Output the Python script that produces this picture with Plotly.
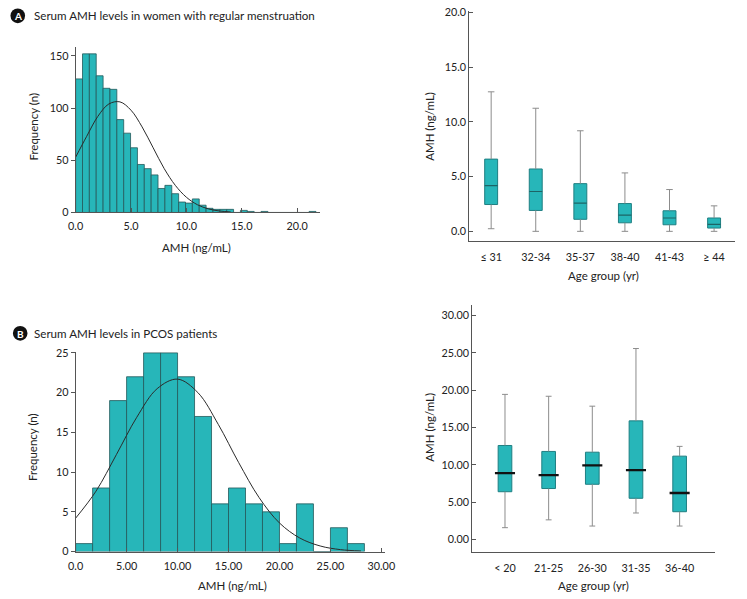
import plotly.graph_objects as go

W, H = 747, 599
FONT = "Lato"
TEAL = "#27b6b9"
BAR_EDGE = "#24595b"
BOX_EDGE = "#1f7f82"
WHISK = "#8c8c8c"
AXIS = "#555555"
TXT = "#222222"

# ---------------- data ----------------
# Panel A histogram (women with regular menstruation)
a_bin_width = 0.62
a_counts = [128, 152, 152, 131, 119, 118, 89, 76, 62, 46, 42, 36, 23, 26, 18,
            10, 9, 13, 7, 4, 3, 3, 3, 0, 2, 1, 0, 1, 0, 0, 0, 0, 0, 0, 1]
a_curve_x = [0, 1, 2, 3, 4, 5, 6, 7, 8, 9, 10, 11, 12, 13, 14]
a_curve_y = [53, 73, 92, 104, 106, 98, 82, 62, 42, 26, 14.6, 7.4, 3.4, 1.4, 0.5]
a_xticks = [0, 5, 10, 15, 20]
a_xtick_text = ["0.0", "5.0", "10.0", "15.0", "20.0"]
a_yticks = [0, 50, 100, 150]

# Panel A boxplot
a_groups = ["≤ 31", "32-34", "35-37", "38-40", "41-43", "≥ 44"]
a_low = [0.24, 0.0, 0.0, 0.0, 0.0, 0.0]
a_q1 = [2.45, 1.91, 1.10, 0.78, 0.60, 0.30]
a_med = [4.18, 3.64, 2.57, 1.49, 1.22, 0.63]
a_q3 = [6.60, 5.70, 4.36, 2.54, 1.88, 1.22]
a_high = [12.75, 11.25, 9.19, 5.34, 3.82, 2.33]
a_box_yticks = [0, 5, 10, 15, 20]
a_box_ytick_text = ["0.0", "5.0", "10.0", "15.0", "20.0"]

# Panel B histogram (PCOS patients)
b_bin_width = 1.667
b_counts = [1, 8, 19, 22, 25, 25, 22, 17, 6, 8, 6, 5, 1, 6, 0, 3, 1]
b_curve_x = [0, 2, 4, 6, 8, 10, 12, 14, 16, 18, 20, 22, 24, 26, 28]
b_curve_y = [4.2, 7.6, 12.2, 16.9, 20.5, 21.7, 20.0, 16.0, 11.2, 6.8, 3.6, 1.7, 0.7, 0.24, 0.07]
b_xticks = [0, 5, 10, 15, 20, 25, 30]
b_xtick_text = ["0.0", "5.00", "10.00", "15.00", "20.00", "25.00", "30.00"]
b_yticks = [0, 5, 10, 15, 20, 25]

# Panel B boxplot
b_groups = ["< 20", "21-25", "26-30", "31-35", "36-40"]
b_low = [1.58, 2.63, 1.80, 3.55, 1.80]
b_q1 = [6.40, 6.83, 7.40, 5.52, 3.72]
b_med = [8.90, 8.63, 9.94, 9.29, 6.22]
b_q3 = [12.60, 11.80, 11.70, 15.90, 11.17]
b_high = [19.45, 19.20, 17.87, 25.60, 12.48]
b_box_yticks = [0, 5, 10, 15, 20, 25, 30]
b_box_ytick_text = ["0.00", "5.00", "10.00", "15.00", "20.00", "25.00", "30.00"]


def px(p):
    return p / W


def py(p):
    return 1 - p / H


fig = go.Figure()


def add_hist(counts, width, cx, cy, xa, ya):
    centers = [i * width + width / 2 for i in range(len(counts))]
    fig.add_trace(go.Bar(x=centers, y=counts, width=width, xaxis=xa, yaxis=ya,
                         marker=dict(color=TEAL, line=dict(color=BAR_EDGE, width=0.8)),
                         showlegend=False, hoverinfo="skip"))
    fig.add_trace(go.Scatter(x=cx, y=cy, mode="lines", xaxis=xa, yaxis=ya,
                             line=dict(color="#2b2b2b", width=1, shape="spline"),
                             showlegend=False, hoverinfo="skip"))


def add_box(low, q1, med, q3, high, xa, ya, box_w, cap_w, med_w, med_color, med_lw):
    idx = list(range(len(med)))
    fig.add_trace(go.Bar(x=idx, y=[b - a for a, b in zip(q1, q3)], base=q1, width=box_w,
                         xaxis=xa, yaxis=ya,
                         marker=dict(color=TEAL, line=dict(color=BOX_EDGE, width=1)),
                         showlegend=False, hoverinfo="skip"))
    wx, wy = [], []
    for i in idx:
        wx += [i, i, None, i, i, None]
        wy += [q3[i], high[i], None, q1[i], low[i], None]
        wx += [i - cap_w, i + cap_w, None, i - cap_w, i + cap_w, None]
        wy += [high[i], high[i], None, low[i], low[i], None]
    fig.add_trace(go.Scatter(x=wx, y=wy, mode="lines", xaxis=xa, yaxis=ya,
                             line=dict(color=WHISK, width=1),
                             showlegend=False, hoverinfo="skip"))
    mx, my = [], []
    for i in idx:
        mx += [i - med_w, i + med_w, None]
        my += [med[i], med[i], None]
    fig.add_trace(go.Scatter(x=mx, y=my, mode="lines", xaxis=xa, yaxis=ya,
                             line=dict(color=med_color, width=med_lw),
                             showlegend=False, hoverinfo="skip"))


add_hist(a_counts, a_bin_width, a_curve_x, a_curve_y, "x", "y")
add_box(a_low, a_q1, a_med, a_q3, a_high, "x2", "y2", 0.29, 0.073, 0.145, "#1d6466", 1.2)
add_hist(b_counts, b_bin_width, b_curve_x, b_curve_y, "x3", "y3")
add_box(b_low, b_q1, b_med, b_q3, b_high, "x4", "y4", 0.313, 0.067, 0.23, "#111111", 2.4)

tickfont = dict(family=FONT, size=10.8, color=TXT)
base_ax = dict(showgrid=False, zeroline=False, showline=True, linecolor=AXIS, linewidth=1,
               tickcolor=AXIS, tickwidth=1, tickfont=tickfont, fixedrange=True)

fig.update_layout(
    width=W, height=H, autosize=False,
    margin=dict(l=0, r=0, t=0, b=0),
    paper_bgcolor="white", plot_bgcolor="white",
    bargap=0, barmode="overlay",
    xaxis=dict(base_ax, domain=[px(69.3), px(320)], range=[0, 22.09], anchor="y",
               tickvals=a_xticks, ticktext=a_xtick_text, ticks="inside", ticklen=4,
               ticklabelstandoff=4),
    yaxis=dict(base_ax, domain=[py(210.7), py(41.7)], range=[0, 158.7], anchor="x",
               tickvals=a_yticks, ticks="outside", ticklen=4),
    xaxis2=dict(base_ax, domain=[px(472.7), px(745)], range=[-0.49, 5.47], anchor="y2",
                tickvals=list(range(len(a_groups))), ticktext=a_groups, ticks="",
                ticklabelstandoff=6),
    yaxis2=dict(base_ax, domain=[py(240), py(5.5)], range=[-0.9, 20.1], anchor="x2",
                tickvals=a_box_yticks, ticktext=a_box_ytick_text, ticks="inside", ticklen=4),
    xaxis3=dict(base_ax, domain=[px(69.3), px(386)], range=[0, 30.33], anchor="y3",
                tickvals=b_xticks, ticktext=b_xtick_text, ticks="inside", ticklen=4,
                ticklabelstandoff=4),
    yaxis3=dict(base_ax, domain=[py(556.7), py(352.7)], range=[0, 25.16], anchor="x3",
                tickvals=b_yticks, ticks="outside", ticklen=4),
    xaxis4=dict(base_ax, domain=[px(475.7), px(724)], range=[-0.75, 4.8], anchor="y4",
                tickvals=list(range(len(b_groups))), ticktext=b_groups, ticks="",
                ticklabelstandoff=6),
    yaxis4=dict(base_ax, domain=[py(556.7), py(305)], range=[-1.62, 31.45], anchor="x4",
                tickvals=b_box_yticks, ticktext=b_box_ytick_text, ticks="inside", ticklen=4),
)

ann = []


def label(x, y, text, size=11.5, angle=0, xanchor="center", color=TXT, bold=False):
    t = "<b>%s</b>" % text if bold else text
    ann.append(dict(x=px(x), y=py(y), xref="paper", yref="paper", text=t, showarrow=False,
                    xanchor=xanchor, yanchor="middle", textangle=angle,
                    font=dict(family=FONT, size=size, color=color)))


# panel titles
label(25, 10, "Serum AMH levels in women with regular menstruation", size=11.6, xanchor="left")
label(25, 334, "Serum AMH levels in PCOS patients", size=11.6, xanchor="left")
label(10, 10.3, "A", size=10, color="white", bold=True)
label(12.5, 334.3, "B", size=10, color="white", bold=True)
# axis titles
label(25.7, 123, "Frequency (n)", angle=-90)
label(193, 246.7, "AMH (ng/mL)")
label(431.7, 123, "AMH (ng/mL)", angle=-90)
label(610, 275, "Age group (yr)")
label(25.7, 450, "Frequency (n)", angle=-90)
label(230, 591.5, "AMH (ng/mL)")
label(431.7, 430, "AMH (ng/mL)", angle=-90)
label(600, 591, "Age group (yr)")
fig.update_layout(annotations=ann)

r = 7.5
fig.update_layout(shapes=[
    dict(type="circle", xref="paper", yref="paper", x0=px(10 - r), x1=px(10 + r),
         y0=py(10 + r), y1=py(10 - r), fillcolor="#111111", line=dict(width=0), layer="below"),
    dict(type="circle", xref="paper", yref="paper", x0=px(12.5 - r), x1=px(12.5 + r),
         y0=py(334 + r), y1=py(334 - r), fillcolor="#111111", line=dict(width=0), layer="below"),
])

fig.write_html("out.html",
               config={"displayModeBar": False, "staticPlot": True},
               post_script="document.body.style.margin='0';document.body.style.overflow='hidden';")
